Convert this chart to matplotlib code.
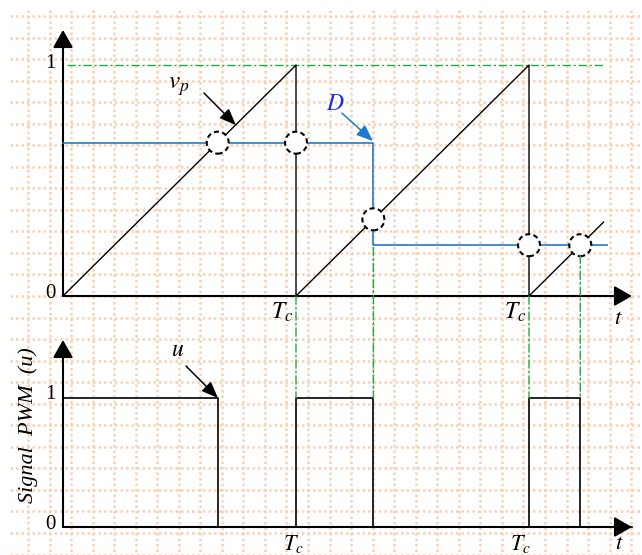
import numpy as np
import matplotlib.pyplot as plt
from matplotlib.patches import Ellipse, ConnectionPatch

plt.rcParams['mathtext.fontset'] = 'stix'
plt.rcParams['font.family'] = ['Liberation Serif', 'DejaVu Serif']

W, H = 642, 555

# sawtooth carrier v_p, time in units of T_c
ramp_t = [0, 1, 1, 2, 2, 2.32]
ramp_v = [0, 1, 0, 1, 0, 0.32]

# duty cycle reference D
duty_t = [0, 1.332, 1.332, 2.335]
duty_v = [0.664, 0.664, 0.22, 0.22]

# PWM output u
pwm_t = [0, 0.664, 0.664, 1, 1, 1.332, 1.332, 2, 2, 2.22, 2.22, 2.44]
pwm_u = [1, 1, 0, 0, 1, 1, 0, 0, 1, 1, 0, 0]

# carrier / reference crossings
cross_t = [0.664, 1, 1.332, 2, 2.22]
cross_v = [0.664, 0.664, 0.332, 0.22, 0.22]

# switching instants dropped down to the u plot
switch_t = [1, 1.332, 2, 2.22]
switch_v = [0, 0.21, 0, 0.177]

# dash-dot level line at v_p = 1
level_t = [0.017, 2.32]
level_v = [1, 1]

period_ticks = [1, 2]
period_labels = [r'$T_c$', r'$T_c$']

t_max = 2.442
top_ymax = 1.152
bot_ymax = 1.45

GREEN = '#22aa44'
BLUE_LINE = '#1f7bcc'
BLUE_TEXT = '#1a2cf0'
GRID = '#fad0b3'
DASHDOT = (0, (6, 2, 1.5, 2))


def px_rect(x0, y0, x1, y1):
    return [x0 / W, 1 - y1 / H, (x1 - x0) / W, (y1 - y0) / H]


def axis_arrows(ax, ymax):
    head = '-|>,head_length=0.43,head_width=0.245'
    for tip in [(t_max, 0), (0, ymax)]:
        ax.annotate('', xy=tip, xytext=(0, 0),
                    arrowprops=dict(arrowstyle=head, lw=1.5, color='black',
                                    mutation_scale=25, shrinkA=0, shrinkB=0),
                    annotation_clip=False)


def pointer(ax, tip, tail, color='black'):
    ax.annotate('', xy=tip, xytext=tail,
                arrowprops=dict(arrowstyle='-|>,head_length=0.5,head_width=0.2',
                                lw=1.1, color=color, mutation_scale=20,
                                shrinkA=0, shrinkB=0),
                annotation_clip=False)


fig = plt.figure(figsize=(W / 100, H / 100), dpi=100)

# dotted page grid behind everything
bg = fig.add_axes([0, 0, 1, 1], zorder=-1)
bg.set_xlim(0, W)
bg.set_ylim(H, 0)
bg.axis('off')
gx = 28 + 21.54 * np.arange(29)
gy = 16 + 21.54 * np.arange(26)
bg.vlines(gx, 10, H, color=GRID, lw=1.8, linestyles=[(0, (1, 1.2))])
bg.hlines(gy, 10, W, color=GRID, lw=1.8, linestyles=[(0, (1, 1.2))])

top = fig.add_axes(px_rect(63, 30, 632, 296))
bot = fig.add_axes(px_rect(63, 340, 632, 527))
top.set_xlim(0, t_max)
top.set_ylim(0, top_ymax)
bot.set_xlim(0, t_max)
bot.set_ylim(0, bot_ymax)
for ax in (top, bot):
    ax.axis('off')
    ax.patch.set_alpha(0)

axis_arrows(top, top_ymax)
axis_arrows(bot, bot_ymax)

# carrier, reference and level line
top.plot(level_t, level_v, color=GREEN, lw=1.0, ls=DASHDOT, clip_on=False)
top.plot(ramp_t, ramp_v, color='black', lw=1.0, clip_on=False, zorder=3)
top.plot(duty_t, duty_v, color=BLUE_LINE, lw=1.2, clip_on=False, zorder=3)

# dashed circles at the crossings
sx = (632 - 63) / t_max
sy = (296 - 30) / top_ymax
for t, v in zip(cross_t, cross_v):
    top.add_patch(Ellipse((t, v), 22 / sx, 22 / sy, facecolor='white',
                          edgecolor='black', lw=1.5, ls=(0, (2.4, 1.6)),
                          zorder=5, clip_on=False))

# PWM signal
bot.plot(pwm_t, pwm_u, color='black', lw=1.2, clip_on=False, zorder=3)

# projection of switching instants
for t, v in zip(switch_t, switch_v):
    con = ConnectionPatch(xyA=(t, v), coordsA=top.transData,
                          xyB=(t, 1), coordsB=bot.transData,
                          color=GREEN, lw=1.0, ls=DASHDOT, zorder=1)
    fig.add_artist(con)

# value labels on the vertical axes
for ax, lift in ((top, 1), (bot, 2.5)):
    ax.annotate('1', xy=(0, 1), xytext=(-5.5, lift), textcoords='offset points',
                ha='right', va='center', fontsize=15, annotation_clip=False)
    ax.annotate('0', xy=(0, 0), xytext=(-5.5, 2), textcoords='offset points',
                ha='right', va='center', fontsize=15, annotation_clip=False)

# period marks on the time axes
for t, lab in zip(period_ticks, period_labels):
    top.annotate(lab, xy=(t, 0), xytext=(-10, -12), textcoords='offset points',
                 ha='center', va='center', fontsize=17, annotation_clip=False)
for t, lab, dx in zip(period_ticks, period_labels, [-1.5, -6.5]):
    bot.annotate(lab, xy=(t, 0), xytext=(dx, -12), textcoords='offset points',
                 ha='center', va='center', fontsize=16, annotation_clip=False)
top.annotate(r'$t$', xy=(t_max, 0), xytext=(-10, -17), textcoords='offset points',
             ha='center', va='center', fontsize=16, annotation_clip=False)
bot.annotate(r'$t$', xy=(t_max, 0), xytext=(-9.5, -12.5), textcoords='offset points',
             ha='center', va='center', fontsize=16, annotation_clip=False)

# curve labels
top.text(0.498, 0.909, r'$v_p$', fontsize=18, ha='center', va='center')
pointer(top, (0.742, 0.740), (0.605, 0.879))
top.text(1.167, 0.831, r'$D$', fontsize=17, ha='center', va='center',
         color=BLUE_TEXT)
pointer(top, (1.330, 0.671), (1.197, 0.792), color=BLUE_LINE)
bot.text(0.494, 1.372, r'$u$', fontsize=17, ha='center', va='center',
         clip_on=False)
pointer(bot, (0.665, 1.0), (0.528, 1.248))

fig.text(28 / W, 1 - 425 / H, 'Signal  PWM  (u)', rotation=90, fontsize=16,
         fontstyle='italic', ha='center', va='center')

fig.savefig('out.png', dpi=100)
